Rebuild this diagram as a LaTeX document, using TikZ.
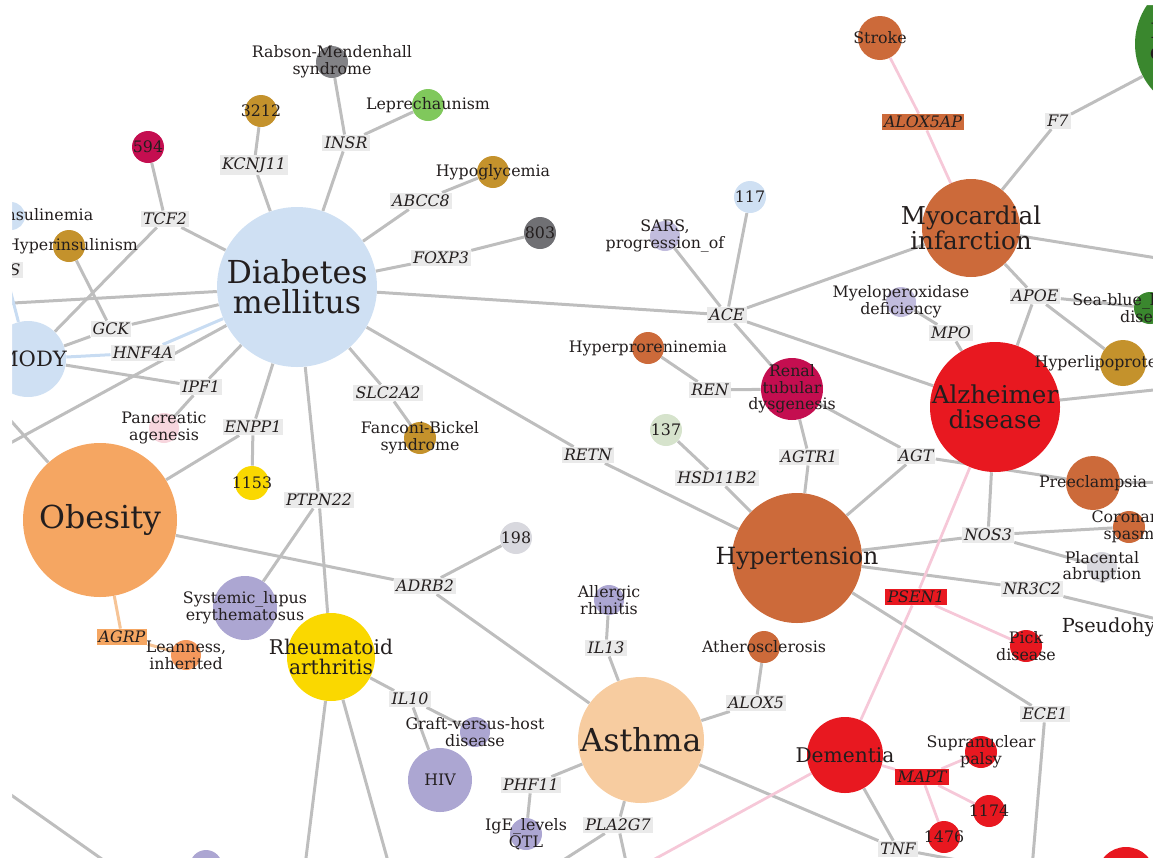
\documentclass[tikz,border=0pt]{standalone}
\usepackage{fontspec}
\setmainfont{DejaVu Serif}

\definecolor{ink}{RGB}{35,30,30}
\definecolor{dmblue}{RGB}{207,224,243}
\definecolor{sandy}{RGB}{245,166,98}
\definecolor{sienna}{RGB}{204,106,58}
\definecolor{alzred}{RGB}{232,24,32}
\definecolor{crimson}{RGB}{196,14,80}
\definecolor{gold}{RGB}{196,146,44}
\definecolor{stone}{RGB}{130,130,134}
\definecolor{slate}{RGB}{112,112,116}
\definecolor{leaf}{RGB}{128,200,92}
\definecolor{forest}{RGB}{58,135,46}
\definecolor{lilac}{RGB}{172,166,210}
\definecolor{sage}{RGB}{214,227,204}
\definecolor{mist}{RGB}{216,216,222}
\definecolor{sun}{RGB}{250,216,0}
\definecolor{peach}{RGB}{247,204,160}
\definecolor{blush}{RGB}{247,214,222}
\definecolor{apricot}{RGB}{244,152,92}
\definecolor{genebg}{RGB}{234,234,234}
\definecolor{edgegray}{RGB}{190,190,190}
\definecolor{edgepink}{RGB}{246,200,216}
\definecolor{edgeblue}{RGB}{200,220,242}
\definecolor{edgeorange}{RGB}{246,196,150}

\pgfdeclarelayer{edges}
\pgfsetlayers{edges,main}

\tikzset{
  dis/.style 2 args={circle, fill=#1, minimum size=#2*0.4mm, inner sep=0pt},
  sm/.style={font=\fontsize{9}{9.5}\selectfont, align=center, text=ink, inner sep=0pt},
  med/.style={font=\fontsize{#1}{#1}\selectfont, align=center, text=ink, inner sep=0pt},
  big/.style={font=\fontsize{18}{17}\selectfont, align=center, text=ink, inner sep=0pt},
  gene/.style={font=\fontsize{9}{9.5}\selectfont\itshape, fill=genebg, text=ink, inner sep=1.2pt},
  link/.style={draw=edgegray, line width=0.6mm},
  plink/.style={draw=edgepink, line width=0.55mm},
  blink/.style={draw=edgeblue, line width=0.6mm},
  olink/.style={draw=edgeorange, line width=0.6mm}
}

\begin{document}
\begin{tikzpicture}[x=0.2mm, y=-0.2mm]
    \useasboundingbox (0,0) rectangle (1156,861);

    \begin{scope}
    \clip (12,5) rectangle (1153,858);
    % large disease nodes
    \node[dis={dmblue}{80}, label={[big]center:{Diabetes\\mellitus}}] (dm) at (297,287) {};
    \node[dis={sandy}{77}, label={[big]center:Obesity}] (obes) at (100,520) {};
    \node[dis={peach}{63}, label={[big]center:Asthma}] (asthma) at (641,740) {};
    \node[dis={sienna}{65}, label={[med=13.5]center:Hypertension}] (ht) at (797,558) {};
    \node[dis={alzred}{65}, label={[med=14]center:{Alzheimer\\disease}}] (alz) at (995,407) {};
    \node[dis={sienna}{49}, label={[med=14]center:{Myocardial\\infarction}}] (mi) at (971,228) {};
    \node[dis={forest}{69}, label={[med=12]center:{Factor VII\\deficiency}}] (f7def) at (1204,44) {};
    \node[dis={sun}{44}, label={[med=11.5]center:{Rheumatoid\\arthritis}}] (ra) at (331,657) {};
    \node[dis={alzred}{38}, label={[med=11.5]center:Dementia}] (dementia) at (845,755) {};
    \node[dis={lilac}{35}, label={[med=11]center:Pseudohypoaldosteronism}] (pseudo) at (1190,627) {};
    \node[dis={dmblue}{38}, label={[med=12,xshift=0.8mm]center:MODY}] (mody) at (28,359) {};
    \node[dis={alzred}{29}] (redbr) at (1126,876) {};
    \node[dis={lilac}{16}] (botlav) at (206,866) {};

    % medium and small disease nodes
    \node[dis={lilac}{32}, label={[sm]center:{Systemic\_lupus\\erythematosus}}] (sle) at (245,608) {};
    \node[dis={lilac}{32}, label={[sm]center:HIV}] (hiv) at (440,780) {};
    \node[dis={crimson}{31}, label={[sm]center:{Renal\\tubular\\dysgenesis}}] (renal) at (792,389) {};
    \node[dis={sienna}{27}, label={[sm]center:Preeclampsia}] (preecl) at (1093,483) {};
    \node[dis={gold}{23}, label={[sm]center:Hyperlipoproteinemia}] (hyplip) at (1123,363) {};
    \node[dis={sienna}{22}, label={[sm]center:Stroke}] (stroke) at (880,38) {};
    \node[dis={dmblue}{14}, label={[sm,xshift=2.2mm]center:Hyperinsulinemia}] (hyinem) at (11,216) {};
    \node[dis={gold}{16}, label={[sm,xshift=0.6mm]center:Hyperinsulinism}] (hyism) at (69,246) {};
    \node[dis={stone}{16}, label={[sm]center:{Rabson-Mendenhall\\syndrome}}] (rabson) at (332,62) {};
    \node[dis={leaf}{16}, label={[sm]center:Leprechaunism}] (lep) at (428,105) {};
    \node[dis={gold}{16}, label={[sm]center:3212}] (n3212) at (261,111) {};
    \node[dis={crimson}{16}, label={[sm]center:594}] (n594) at (148,147) {};
    \node[dis={gold}{16}, label={[sm]center:Hypoglycemia}] (hypogly) at (493,172) {};
    \node[dis={slate}{16}, label={[sm]center:803}] (n803) at (540,233) {};
    \node[dis={lilac!75}{15}, label={[sm]center:{SARS,\\progression\_of}}] (sars) at (665,236) {};
    \node[dis={dmblue}{16}, label={[sm]center:117}] (n117) at (750,197) {};
    \node[dis={forest}{16}, label={[sm]center:{Sea-blue\_histiocyte\\disease}}] (seablue) at (1150,308) {};
    \node[dis={lilac!75}{15}, label={[sm]center:{Myeloperoxidase\\deficiency}}] (myelo) at (901,302) {};
    \node[dis={sienna}{16}, label={[sm]center:Hyperproreninemia}] (hyren) at (648,348) {};
    \node[dis={sage}{16}, label={[sm]center:137}] (n137) at (666,430) {};
    \node[dis={gold}{16}, label={[sm]center:{Fanconi-Bickel\\syndrome}}] (fanconi) at (420,438) {};
    \node[dis={sun}{17}, label={[sm]center:1153}] (n1153) at (252,483) {};
    \node[dis={blush}{15}, label={[sm]center:{Pancreatic\\agenesis}}] (pancr) at (164,428) {};
    \node[dis={mist}{16}, label={[sm]center:198}] (n198) at (516,538) {};
    \node[dis={apricot}{15}, label={[sm]center:{Leanness,\\inherited}}] (lean) at (186,655) {};
    \node[dis={lilac}{15}, label={[sm]center:{Allergic\\rhinitis}}] (allerg) at (609,600) {};
    \node[dis={sienna}{16}, label={[sm]center:Atherosclerosis}] (ather) at (764,647) {};
    \node[dis={lilac}{15}, label={[sm]center:{Graft-versus-host\\disease}}] (gvhd) at (475,732) {};
    \node[dis={lilac}{16}, label={[sm]center:{IgE\_levels\\QTL}}] (ige) at (526,834) {};
    \node[dis={alzred}{16}, label={[sm]center:{Supranuclear\\palsy}}] (supra) at (981,752) {};
    \node[dis={alzred}{16}, label={[sm]center:1174}] (n1174) at (989,811) {};
    \node[dis={alzred}{16}, label={[sm]center:1476}] (n1476) at (944,837) {};
    \node[dis={alzred}{16}, label={[sm]center:{Pick\\disease}}] (pick) at (1026,646) {};
    \node[dis={sienna}{16}, label={[sm]center:{Coronary\\spasm}}] (coron) at (1129,527) {};
    \node[dis={mist}{15}, label={[sm]center:{Placental\\abruption}}] (placent) at (1102,567) {};

    % gene nodes
    \node[gene] (tcf2) at (165,219) {TCF2};
    \node[gene] (kcnj11) at (254,165) {KCNJ11};
    \node[gene] (insr) at (346,143) {INSR};
    \node[gene] (abcc8) at (421,201) {ABCC8};
    \node[gene] (foxp3) at (441,258) {FOXP3};
    \node[gene] (ins) at (5,270) {INS};
    \node[gene] (gck) at (111,329) {GCK};
    \node[gene] (hnf4a) at (143,353) {HNF4A};
    \node[gene] (ipf1) at (201,387) {IPF1};
    \node[gene] (enpp1) at (253,427) {ENPP1};
    \node[gene] (slc2a2) at (388,393) {SLC2A2};
    \node[gene] (ptpn22) at (319,500) {PTPN22};
    \node[gene] (retn) at (588,455) {RETN};
    \node[gene] (ace) at (727,315) {ACE};
    \node[gene] (ren) at (710,390) {REN};
    \node[gene] (hsd) at (717,478) {HSD11B2};
    \node[gene] (agtr1) at (809,457) {AGTR1};
    \node[gene] (agt) at (916,456) {AGT};
    \node[gene] (mpo) at (951,333) {MPO};
    \node[gene] (apoe) at (1035,296) {APOE};
    \node[gene] (f7) at (1058,121) {F7};
    \node[gene, fill=sienna] (alox5ap) at (923,122) {ALOX5AP};
    \node[gene] (nos3) at (988,535) {NOS3};
    \node[gene] (nr3c2) at (1032,589) {NR3C2};
    \node[gene, fill=alzred] (psen1) at (916,597) {PSEN1};
    \node[gene] (ece1) at (1045,714) {ECE1};
    \node[gene, fill=alzred] (mapt) at (922,777) {MAPT};
    \node[gene] (tnf) at (898,849) {TNF};
    \node[gene] (alox5) at (756,703) {ALOX5};
    \node[gene] (il13) at (606,648) {IL13};
    \node[gene] (phf11) at (531,785) {PHF11};
    \node[gene] (pla2g7) at (618,825) {PLA2G7};
    \node[gene] (adrb2) at (425,586) {ADRB2};
    \node[gene] (il10) at (410,699) {IL10};
    \node[gene, fill=sandy] (agrp) at (122,637) {AGRP};
    \end{scope}

    % ends of links that leave the frame
    \coordinate (offA) at (-40,306);
    \coordinate (offB) at (-30,465);
    \coordinate (offC) at (-15,392);
    \coordinate (offD) at (302,890);
    \coordinate (offE) at (396,890);
    \coordinate (offF) at (-20,773);
    \coordinate (offG) at (140,886);
    \coordinate (offH) at (540,875);
    \coordinate (offI) at (630,880);
    \coordinate (offJ) at (1000,868);
    \coordinate (offK) at (1031,880);
    \coordinate (offL) at (620,878);
    \coordinate (offM) at (1200,265);
    \coordinate (offN) at (1200,385);
    \coordinate (offP) at (1200,482);

    \begin{pgfonlayer}{edges}
        \clip (12,5) rectangle (1153,858);
        \draw[link] (dm) -- (tcf2) -- (n594);
        \draw[link] (tcf2) -- (mody);
        \draw[link] (dm) -- (kcnj11) -- (n3212);
        \draw[link] (dm) -- (insr) -- (rabson);
        \draw[link] (insr) -- (lep);
        \draw[link] (dm) -- (abcc8) -- (hypogly);
        \draw[link] (dm) -- (foxp3) -- (n803);
        \draw[link] (dm) -- (ace) -- (sars);
        \draw[link] (ace) -- (n117);
        \draw[link] (ace) -- (mi);
        \draw[link] (ace) -- (alz);
        \draw[link] (ace) -- (renal);
        \draw[link] (dm) -- (slc2a2) -- (fanconi);
        \draw[link] (dm) -- (retn) -- (ht);
        \draw[link] (dm) -- (ptpn22) -- (ra);
        \draw[link] (ptpn22) -- (sle);
        \draw[link] (dm) -- (enpp1) -- (n1153);
        \draw[link] (enpp1) -- (obes);
        \draw[link] (dm) -- (ipf1) -- (pancr);
        \draw[link] (ipf1) -- (mody);
        \draw[link] (dm) -- (gck) -- (mody);
        \draw[link] (gck) -- (hyism);
        \draw[link] (dm) -- (offA);
        \draw[link] (dm) -- (offB);
        \draw[link] (obes) -- (offC);
        \draw[link] (offF) -- (offG);
        \draw[link] (obes) -- (adrb2) -- (asthma);
        \draw[link] (adrb2) -- (n198);
        \draw[link] (ra) -- (il10) -- (gvhd);
        \draw[link] (il10) -- (hiv);
        \draw[link] (ra) -- (offD);
        \draw[link] (ra) -- (offE);
        \draw[link] (asthma) -- (il13) -- (allerg);
        \draw[link] (asthma) -- (alox5) -- (ather);
        \draw[link] (asthma) -- (phf11) -- (ige);
        \draw[link] (asthma) -- (pla2g7) -- (offH);
        \draw[link] (pla2g7) -- (offI);
        \draw[link] (asthma) -- (tnf) -- (dementia);
        \draw[link] (tnf) -- (offJ);
        \draw[link] (ht) -- (hsd) -- (n137);
        \draw[link] (ht) -- (agtr1) -- (renal);
        \draw[link] (ht) -- (agt) -- (renal);
        \draw[link] (agt) -- (preecl);
        \draw[link] (ht) -- (nos3) -- (alz);
        \draw[link] (nos3) -- (coron);
        \draw[link] (nos3) -- (placent);
        \draw[link] (ht) -- (nr3c2) -- (pseudo);
        \draw[link] (ht) -- (ece1) -- (offK);
        \draw[link] (renal) -- (ren) -- (hyren);
        \draw[link] (alz) -- (mpo) -- (myelo);
        \draw[link] (alz) -- (apoe) -- (mi);
        \draw[link] (apoe) -- (seablue);
        \draw[link] (apoe) -- (hyplip);
        \draw[link] (alz) -- (offN);
        \draw[link] (mi) -- (f7) -- (f7def);
        \draw[link] (mi) -- (offM);
        \draw[link] (preecl) -- (offP);
        \draw[plink] (stroke) -- (alox5ap) -- (mi);
        \draw[plink] (alz) -- (psen1) -- (dementia);
        \draw[plink] (psen1) -- (pick);
        \draw[plink] (dementia) -- (mapt) -- (supra);
        \draw[plink] (mapt) -- (n1174);
        \draw[plink] (mapt) -- (n1476);
        \draw[plink] (dementia) -- (offL);
        \draw[blink] (dm) -- (hnf4a) -- (mody);
        \draw[blink] (hyinem) -- (ins) -- (mody);
        \draw[olink] (obes) -- (agrp) -- (lean);
    \end{pgfonlayer}

    % white margin round the clipped network
    \fill[white, even odd rule] (-5,-5) rectangle (1161,866) (12,5) rectangle (1153,858);
\end{tikzpicture}
\end{document}
